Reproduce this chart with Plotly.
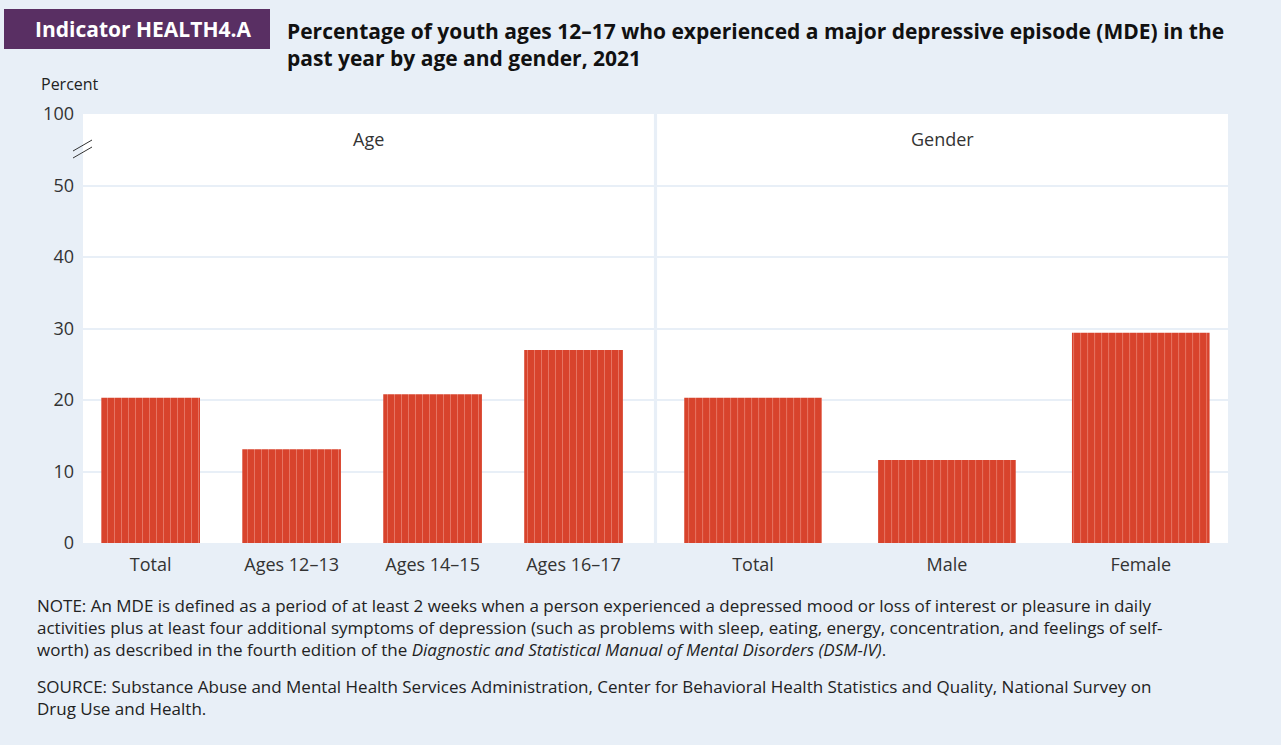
import plotly.graph_objects as go

age_labels = ["Total", "Ages 12–13", "Ages 14–15", "Ages 16–17"]
age_values = [20.3, 13.1, 20.8, 27.0]
gender_labels = ["Total", "Male", "Female"]
gender_values = [20.3, 11.6, 29.4]
tick_vals = [0, 10, 20, 30, 40, 50, 60]
tick_text = ["0", "10", "20", "30", "40", "50", "100"]

note_lines = [
    "NOTE: An MDE is defined as a period of at least 2 weeks when a person experienced a depressed mood or loss of interest or pleasure in daily",
    "activities plus at least four additional symptoms of depression (such as problems with sleep, eating, energy, concentration, and feelings of self-",
    "worth) as described in the fourth edition of the <i>Diagnostic and Statistical Manual of Mental Disorders (DSM-IV)</i>.",
]
source_lines = [
    "SOURCE: Substance Abuse and Mental Health Services Administration, Center for Behavioral Health Statistics and Quality, National Survey on",
    "Drug Use and Health.",
]

W, H = 1281, 745
L, R, T, B = 83, 53, 114, 202
PW, PH = W - L - R, H - T - B
FONT = "Open Sans"
BAR = "#d8432c"
STRIPE = "#f6a89c"
BG = "#e8eff7"


def px(x):
    return (x - L) / PW


def py(y):
    return (H - B - y) / PH


bar_style = dict(
    color=BAR,
    line=dict(width=0),
    pattern=dict(shape="|", fgcolor=STRIPE, bgcolor=BAR, size=7, solidity=0.14),
)

fig = go.Figure()
fig.add_trace(go.Bar(x=age_labels, y=age_values, width=0.7, marker=bar_style,
                     xaxis="x", yaxis="y", hoverinfo="x+y"))
fig.add_trace(go.Bar(x=gender_labels, y=gender_values, width=0.71, marker=bar_style,
                     xaxis="x2", yaxis="y2", hoverinfo="x+y"))

axis_font = dict(family=FONT, size=18, color="#333333")
ygrid = dict(range=[0, 60], tickvals=tick_vals, showgrid=True, gridcolor=BG, gridwidth=2,
             zeroline=False, showline=False, ticks="")

fig.update_layout(
    width=W, height=H,
    margin=dict(l=L, r=R, t=T, b=B),
    paper_bgcolor=BG,
    plot_bgcolor="white",
    showlegend=False,
    font=dict(family=FONT, color="#222222"),
    xaxis=dict(domain=[0, 0.4986], range=[-0.48, 3.57], tickfont=axis_font, showgrid=False,
               ticks="", showline=False, ticklabelstandoff=9),
    xaxis2=dict(domain=[0.5014, 1], range=[-0.495, 2.45], tickfont=axis_font, showgrid=False,
                ticks="", showline=False, ticklabelstandoff=9),
    yaxis=dict(**ygrid, ticktext=tick_text, tickfont=axis_font, anchor="x", ticklabelstandoff=8),
    yaxis2=dict(**ygrid, showticklabels=False, anchor="x2", matches="y"),
)

# header box and title
fig.add_shape(type="rect", xref="paper", yref="paper", x0=px(4), x1=px(270), y0=py(49), y1=py(9),
              fillcolor="#592f63", line=dict(width=0), layer="below")
fig.add_annotation(xref="paper", yref="paper", x=px(143), y=py(29), text="<b>Indicator HEALTH4.A</b>",
                   showarrow=False, font=dict(family=FONT, size=21, color="white"),
                   xanchor="center", yanchor="middle")
fig.add_annotation(xref="paper", yref="paper", x=px(285), y=py(15), align="left",
                   text="<b>Percentage of youth ages 12–17 who experienced a major depressive episode (MDE) in the"
                        "<br>past year by age and gender, 2021</b>",
                   showarrow=False, font=dict(family=FONT, size=21, color="#111111"),
                   xanchor="left", yanchor="top")
fig.add_annotation(xref="paper", yref="paper", x=px(39), y=py(84), text="Percent", showarrow=False,
                   font=dict(family=FONT, size=16, color="#222222"), xanchor="left", yanchor="middle")

# panel labels
fig.add_annotation(xref="x domain", yref="paper", x=0.5, y=py(139), text="Age", showarrow=False,
                   font=dict(family=FONT, size=18, color="#333333"), yanchor="middle")
fig.add_annotation(xref="x2 domain", yref="paper", x=0.5, y=py(139), text="Gender", showarrow=False,
                   font=dict(family=FONT, size=18, color="#333333"), yanchor="middle")

# axis break marks
for dy in (0, 7):
    fig.add_shape(type="line", xref="paper", yref="paper", x0=px(73), y0=py(151 + dy), x1=px(92),
                  y1=py(140 + dy), line=dict(color="#333333", width=1))

# footnotes
fig.add_annotation(xref="paper", yref="paper", x=px(35), y=py(627), text="<br>".join(note_lines),
                   showarrow=False, font=dict(family=FONT, size=17, color="#222222"),
                   xanchor="left", yanchor="middle", align="left")
fig.add_annotation(xref="paper", yref="paper", x=px(35), y=py(697), text="<br>".join(source_lines),
                   showarrow=False, font=dict(family=FONT, size=17, color="#222222"),
                   xanchor="left", yanchor="middle", align="left")

fig.write_html("out.html", config={"displayModeBar": False},
               post_script="document.body.style.margin='0';document.body.style.background='" + BG + "';")
